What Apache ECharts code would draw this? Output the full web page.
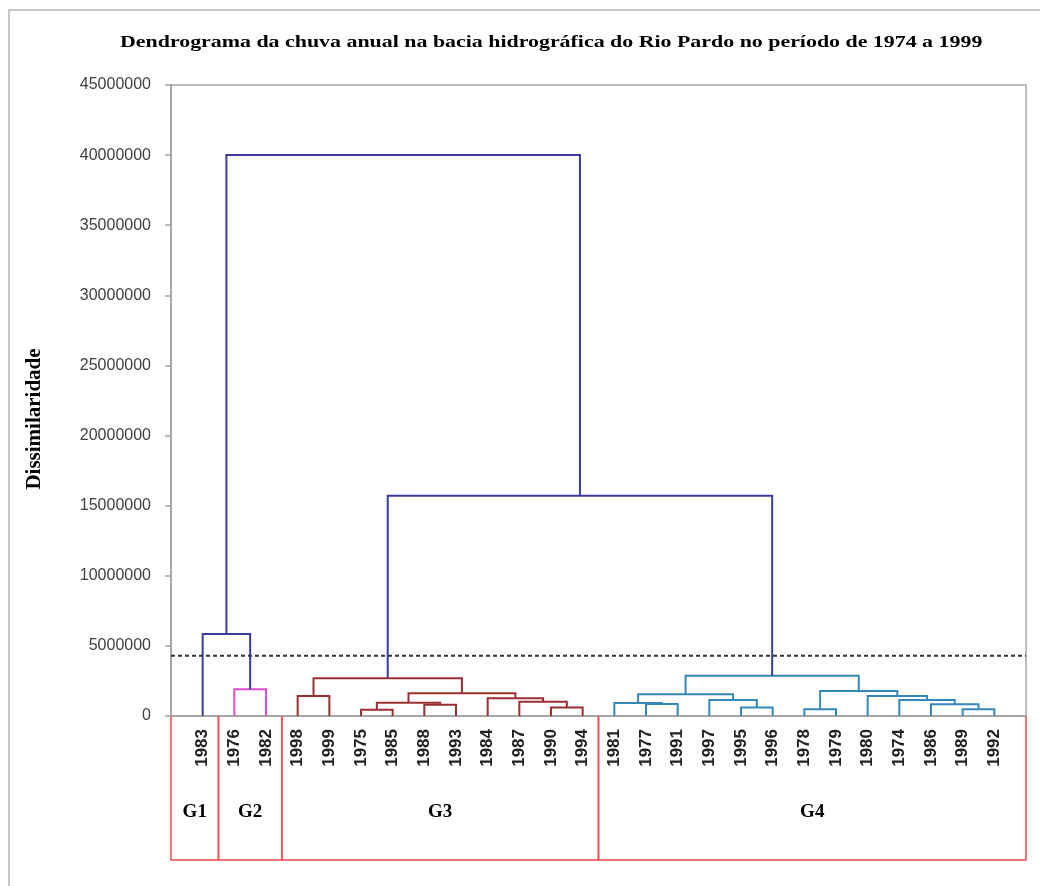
<!DOCTYPE html>
<html>
<head>
<meta charset="utf-8">
<title>Dendrograma da chuva anual</title>
<script src="https://cdn.jsdelivr.net/npm/echarts@6/dist/echarts.min.js"></script>
<style>
  html, body { margin: 0; padding: 0; background: #fff; }
  #chart { width: 1040px; height: 886px; }
</style>
</head>
<body>
<div id="chart"></div>
<script>
// folhas na ordem do eixo x
const years = ['1983', '1976', '1982', '1998', '1999', '1975', '1985', '1988', '1993',
  '1984', '1987', '1990', '1994', '1981', '1977', '1991', '1997', '1995', '1996',
  '1978', '1979', '1980', '1974', '1986', '1989', '1992']

// fusões: [filho A, filho B, altura] - índices < 26 são folhas, os outros são clusters (26, 27, ...)
const merges = [
  [1, 2, 1900000],      // 26: 1976-1982
  [0, 26, 5850000],     // 27: G1 + G2
  [3, 4, 1430000],      // 28: 1998-1999
  [5, 6, 450000],       // 29: 1975-1985
  [7, 8, 800000],       // 30: 1988-1993
  [29, 30, 950000],     // 31
  [11, 12, 600000],     // 32: 1990-1994
  [10, 32, 1020000],    // 33
  [9, 33, 1260000],     // 34
  [31, 34, 1620000],    // 35
  [28, 35, 2700000],    // 36: G3
  [14, 15, 850000],     // 37: 1977-1991
  [13, 37, 920000],     // 38
  [17, 18, 600000],     // 39: 1995-1996
  [16, 39, 1140000],    // 40
  [38, 40, 1550000],    // 41
  [19, 20, 480000],     // 42: 1978-1979
  [24, 25, 480000],     // 43: 1989-1992
  [23, 43, 830000],     // 44
  [22, 44, 1140000],    // 45
  [21, 45, 1430000],    // 46
  [42, 46, 1780000],    // 47
  [41, 47, 2870000],    // 48: G4
  [36, 48, 15700000],   // 49
  [27, 49, 40000000]    // 50: raiz
]

// grupos formados pelo corte
const groupNames = ['G1', 'G2', 'G3', 'G4']
const groupSizes = [1, 2, 10, 13]
const cutHeight = 4300000

// eixo y
const yMax = 45000000
const yStep = 5000000

// cores
const topColor = '#3b3b9e'
const groupColors = ['#3b3b9e', '#dc4fc9', '#9b2f33', '#3389b9']
const boxColor = '#ea4a4f'
const axisColor = '#a6a6a6'

// posições dos nós (folha i fica em x = i + 1)
const nodeX = years.map((_, i) => i + 1)
const nodeH = years.map(() => 0)
const nodeLeaves = years.map((_, i) => [i])
const leafGroup = []
groupSizes.forEach((s, g) => {
  for (let k = 0; k < s; k++) leafGroup.push(g)
})

const mergeData = merges.map(([a, b, h]) => {
  const leaves = nodeLeaves[a].concat(nodeLeaves[b])
  const g = leafGroup[leaves[0]]
  const inside = leaves.every((l) => leafGroup[l] === g)
  const item = {
    value: [nodeX[a], nodeH[a], nodeX[b], nodeH[b], h],
    itemStyle: { color: inside ? groupColors[g] : topColor },
  }
  nodeX.push((nodeX[a] + nodeX[b]) / 2)
  nodeH.push(h)
  nodeLeaves.push(leaves)
  return item
})

// limites das caixas dos grupos
const boxData = []
let acc = 0
groupSizes.forEach((s, g) => {
  const x0 = g === 0 ? 0 : acc + 0.5
  acc += s
  const x1 = g === groupSizes.length - 1 ? years.length + 1 : acc + 0.5
  boxData.push([x0, x1])
})

let mycharts = echarts.init(document.getElementById('chart'))
mycharts.setOption({
  animation: false,
  graphic: [
    {
      type: 'rect',
      shape: { x: 9, y: 10, width: 1060, height: 900 },
      style: { fill: null, stroke: '#b5b5b5', lineWidth: 1.5 },
      silent: true,
    },
    {
      // título (a fonte do original é mais larga)
      type: 'text',
      x: 120,
      y: 43,
      scaleX: 1.288,
      style: {
        text: 'Dendrograma da chuva anual na bacia hidrográfica do Rio Pardo no período de 1974 a 1999',
        fontFamily: 'Liberation Serif',
        fontWeight: 'bold',
        fontSize: 17,
        fill: '#000',
        align: 'left',
        verticalAlign: 'middle',
      },
    },
    {
      type: 'text',
      x: 35,
      y: 419,
      rotation: Math.PI / 2,
      style: {
        text: 'Dissimilaridade',
        fontFamily: 'Liberation Serif',
        fontWeight: 'bold',
        fontSize: 21,
        fill: '#000',
        align: 'center',
        verticalAlign: 'middle',
      },
    },
  ],
  grid: {
    left: 171,
    right: 14,
    top: 85,
    bottom: 170,
    show: true,
    borderColor: axisColor,
    borderWidth: 1.5,
  },
  xAxis: {
    type: 'value',
    min: 0,
    max: years.length + 1,
    interval: 1,
    splitLine: { show: false },
    axisTick: { show: false },
    axisLine: { lineStyle: { color: axisColor, width: 2 } },
    axisLabel: {
      rotate: 90,
      margin: 13,
      fontFamily: 'Liberation Sans',
      fontWeight: 'bold',
      fontSize: 17,
      color: '#222',
      formatter: (v) => years[v - 1] || '',
    },
  },
  yAxis: {
    type: 'value',
    min: 0,
    max: yMax,
    interval: yStep,
    splitLine: { show: false },
    axisLine: { show: true, lineStyle: { color: axisColor, width: 2 } },
    axisTick: { show: true, length: 6, lineStyle: { color: axisColor, width: 1.5 } },
    axisLabel: {
      margin: 20,
      fontFamily: 'Liberation Sans',
      fontSize: 16,
      color: '#404040',
      formatter: (v) => String(v),
    },
  },
  series: [
    {
      // caixas dos grupos abaixo do eixo
      type: 'custom',
      silent: true,
      z: 1,
      data: boxData,
      renderItem: (params, api) => {
        const p0 = api.coord([api.value(0), 0])
        const p1 = api.coord([api.value(1), 0])
        const bottom = p0[1] + 144
        return {
          type: 'group',
          children: [
            {
              type: 'polyline',
              shape: { points: [[p0[0], p0[1]], [p0[0], bottom], [p1[0], bottom], [p1[0], p0[1]]] },
              style: { stroke: boxColor, lineWidth: 1.5, fill: null },
            },
            {
              type: 'text',
              style: {
                text: groupNames[params.dataIndex],
                x: (p0[0] + p1[0]) / 2,
                y: p0[1] + 96,
                align: 'center',
                verticalAlign: 'middle',
                fontFamily: 'Liberation Serif',
                fontWeight: 'bold',
                fontSize: 19,
                fill: '#000',
              },
            },
          ],
        }
      },
    },
    {
      // linha de corte
      type: 'line',
      silent: true,
      symbol: 'none',
      data: [[0, cutHeight], [years.length + 1, cutHeight]],
      lineStyle: { color: '#333', width: 2, type: [4, 3] },
      z: 3,
    },
    {
      // ligações do dendrograma
      type: 'custom',
      silent: true,
      z: 4,
      data: mergeData,
      renderItem: (params, api) => {
        const a = api.coord([api.value(0), api.value(1)])
        const a2 = api.coord([api.value(0), api.value(4)])
        const b2 = api.coord([api.value(2), api.value(4)])
        const b = api.coord([api.value(2), api.value(3)])
        return {
          type: 'polyline',
          shape: { points: [a, a2, b2, b] },
          style: { stroke: api.visual('color'), lineWidth: 2, fill: null },
        }
      },
    },
  ],
})
</script>
</body>
</html>
